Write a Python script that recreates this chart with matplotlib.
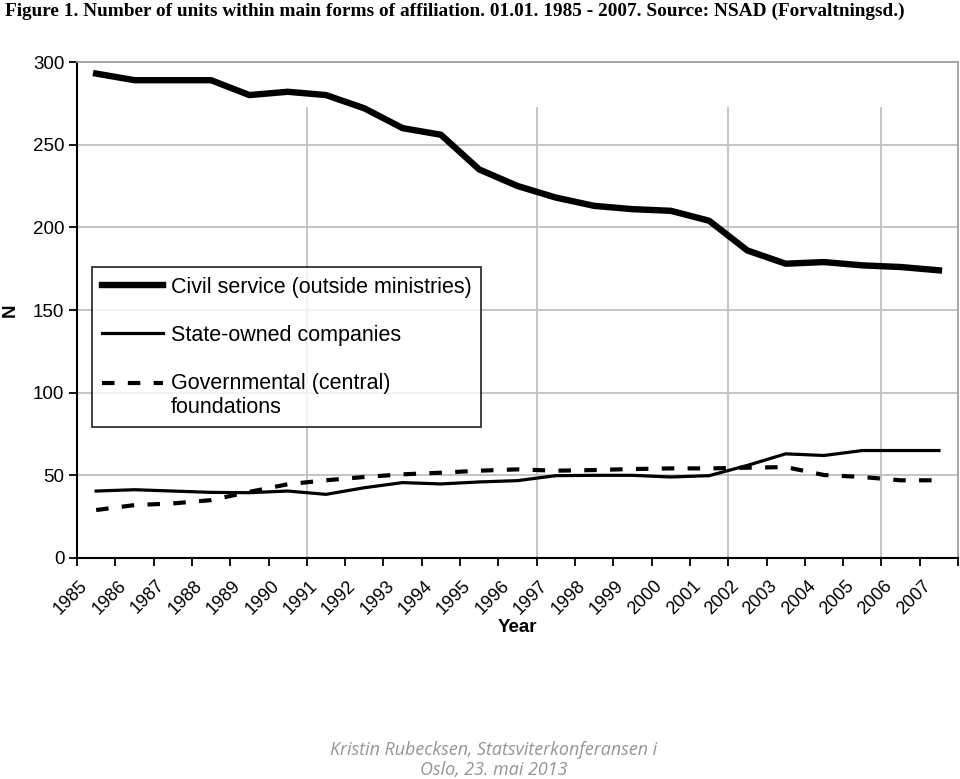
import matplotlib
matplotlib.use("Agg")
import matplotlib.pyplot as plt
import matplotlib.transforms as mtransforms

years = [str(y) for y in range(1985, 2008)]
civil_service = [293, 289, 289, 289, 280, 282, 280, 272, 260, 256, 235, 225,
                 218, 213, 211, 210, 204, 186, 178, 179, 177, 176, 174]
state_owned = [40.5, 41.3, 40.5, 39.7, 39.5, 40.5, 38.5, 42.5, 45.6, 44.8, 46, 46.8,
               49.8, 50, 50, 49, 49.8, 56, 63, 62, 65, 65, 65]
foundations = [29, 32, 33, 35, 40, 44.6, 47, 49, 50.6, 51.6, 52.8, 53.6,
               52.8, 53.2, 53.8, 54.2, 54.2, 54.6, 55, 50.2, 49, 47, 47]
yticks = [0, 50, 100, 150, 200, 250, 300]
labels = ["Civil service (outside ministries)", "State-owned companies",
          "Governmental (central)\nfoundations"]

plt.rcParams['font.family'] = ['Liberation Sans', 'DejaVu Sans']

fig = plt.figure(figsize=(9.6, 7.79), dpi=100)
ax = fig.add_axes([0.0802, 0.2837, 0.998 - 0.0802, 0.9204 - 0.2837])

x = list(range(len(years)))
ax.plot(x, civil_service, color='black', lw=4.6, label=labels[0], zorder=3)
ax.plot(x, state_owned, color='black', lw=2.3, label=labels[1], zorder=3)
ax.plot(x, foundations, color='black', lw=3.0, dashes=(3, 3.2), label=labels[2], zorder=3)

ax.set_xlim(-0.5, len(years) - 0.5)
ax.set_ylim(0, 300)
ax.set_yticks(yticks)
ax.set_yticklabels([str(v) for v in yticks], fontsize=13.5)
for v in yticks[1:]:
    ax.axhline(v, color='#c0c0c0', lw=1.3, zorder=1)
# partial vertical lines as in reference
for b in [5.5, 11.5, 16.5, 20.5]:
    ax.plot([b, b], [0, 272], color='#c0c0c0', lw=1.3, zorder=1)

ax.set_xticks([i - 0.5 for i in range(len(years) + 1)])
ax.set_xticklabels([])
ax.set_xticks(x, minor=True)
ax.set_xticklabels(years, minor=True, rotation=45, ha='right', va='center',
                   rotation_mode='anchor', fontsize=13)
ax.tick_params(axis='x', which='minor', length=0, pad=18)
ax.tick_params(axis='x', which='major', length=6, width=1.3, direction='out')
ax.tick_params(axis='y', length=6, width=1.3, direction='out', pad=3)
off = mtransforms.ScaledTranslation(-11/100, 0, fig.dpi_scale_trans)
for lab in ax.get_xticklabels(minor=True):
    lab.set_transform(lab.get_transform() + off)

for s in ['left', 'bottom']:
    ax.spines[s].set_color('black')
    ax.spines[s].set_linewidth(1.5)
for s in ['top', 'right']:
    ax.spines[s].set_color('#a0a0a0')
    ax.spines[s].set_linewidth(1.3)

fig.text(517/960, 1 - 627/779, 'Year', fontsize=13.5, fontweight='bold', ha='center', va='center')
fig.text(10/960, 1 - 310/779, 'N', fontsize=13.5, fontweight='bold', ha='center', va='center', rotation=90)

leg = ax.legend(loc='upper left', bbox_to_anchor=(0.017, 0.5867), fontsize=15.5,
                frameon=True, fancybox=False, handlelength=2.85, handletextpad=0.35,
                labelspacing=1.25, borderpad=0.45, borderaxespad=0, edgecolor='black')
leg.get_frame().set_linewidth(1.3)
# align dashed sample with the first line of its two-line label
hd = leg.legend_handles[2]
hd.set_ydata([y + 9 for y in hd.get_ydata()])

fig.text(0.005, 0.997, "Figure 1. Number of units within main forms of affiliation. 01.01. 1985 - 2007. Source: NSAD (Forvaltningsd.)",
         family='Liberation Serif', fontweight='bold', fontsize=13.9, ha='left', va='top')
fig.text(0.514, 0.0, "Kristin Rubecksen, Statsviterkonferansen i\nOslo, 23. mai 2013",
         family='Open Sans', style='italic', fontsize=12.9, color='#959595',
         ha='center', va='bottom', linespacing=1.15)

fig.savefig('out.png', dpi=100)
